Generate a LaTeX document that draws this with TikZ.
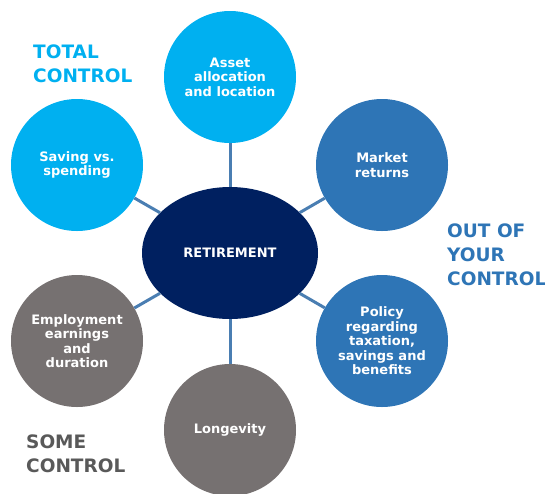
\documentclass[tikz,border=0pt]{standalone}
\usepackage{fontspec}
\setmainfont{DejaVu Sans}
\usetikzlibrary{shapes.geometric}
\definecolor{lightblue}{HTML}{00B0F0}
\definecolor{midblue}{HTML}{2E75B6}
\definecolor{greycirc}{HTML}{767171}
\definecolor{navy}{HTML}{002060}
\definecolor{darkgrey}{HTML}{595959}
\definecolor{linkblue}{HTML}{4A7EB2}
\begin{document}
\begin{tikzpicture}[x=1pt,y=-1pt,
		bubble/.style={circle,minimum size=132pt,inner sep=0pt,text=white,align=center,
			font=\bfseries\fontsize{13}{14.5}\selectfont},
		heading/.style={anchor=west,inner sep=0pt,align=left,
			font=\bfseries\fontsize{18.5}{24}\selectfont},
		link/.style={draw=linkblue,line width=3pt}]
		\useasboundingbox (0,0) rectangle (545,493);
		%Centre
			\node[ellipse,fill=navy,minimum width=176pt,minimum height=132pt,inner sep=0pt,
				text=white,font=\bfseries\fontsize{13}{14.5}\selectfont] (retirement) at (230,253) {RETIREMENT};
		%Total control
			\node[bubble,fill=lightblue] (asset) at (230,77) {Asset\\allocation\\and location};
			\node[bubble,fill=lightblue] (saving) at (77,165) {Saving vs.\\spending};
		%Out of your control
			\node[bubble,fill=midblue] (market) at (382,165) {Market\\returns};
			\node[bubble,fill=midblue] (policy) at (382,341) {Policy\\regarding\\taxation,\\savings and\\benefits};
		%Some control
			\node[bubble,fill=greycirc] (employment) at (77,341) {Employment\\earnings\\and\\duration};
			\node[bubble,fill=greycirc] (longevity) at (230,430) {Longevity};
		%Links
			\foreach \n in {asset,saving,market,policy,employment,longevity}
			{
				\draw[link] (\n) -- (retirement);
			}
		%Headings
			\node[heading,text=lightblue] (total) at (33,64) {TOTAL\\CONTROL};
			\node[heading,text=midblue] (outof) at (447,255) {OUT OF\\YOUR\\CONTROL};
			\node[heading,text=darkgrey] (some) at (26,454) {SOME\\CONTROL};
	\end{tikzpicture}
\end{document}
